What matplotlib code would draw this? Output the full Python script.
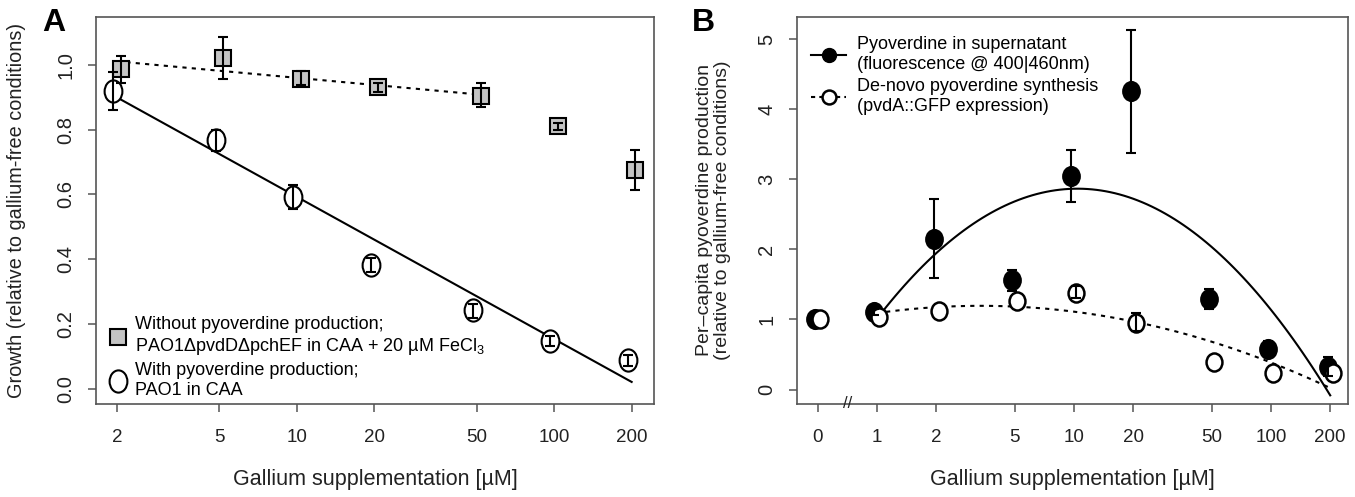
import numpy as np
import matplotlib.pyplot as plt
from matplotlib.path import Path
from matplotlib.lines import Line2D
from matplotlib.ticker import NullLocator

plt.rcParams['font.family'] = ['Liberation Sans', 'DejaVu Sans']
plt.rcParams['mathtext.fontset'] = 'custom'
plt.rcParams['mathtext.rm'] = 'Liberation Sans'
plt.rcParams['mathtext.it'] = 'Liberation Sans:italic'

# ---- panel A data: growth relative to gallium-free conditions ----
conc_a = np.array([2, 5, 10, 20, 50, 100, 200])
grow_nopvd = np.array([0.985, 1.020, 0.957, 0.931, 0.903, 0.811, 0.676])
grow_nopvd_lo = np.array([0.944, 0.957, 0.936, 0.916, 0.868, 0.799, 0.615])
grow_nopvd_hi = np.array([1.026, 1.084, 0.980, 0.944, 0.942, 0.821, 0.738])
grow_pvd = np.array([0.918, 0.767, 0.592, 0.383, 0.243, 0.148, 0.089])
grow_pvd_lo = np.array([0.859, 0.735, 0.556, 0.360, 0.221, 0.133, 0.071])
grow_pvd_hi = np.array([0.977, 0.798, 0.628, 0.403, 0.262, 0.163, 0.107])
nopvd_fit_max = 50  # dotted regression only up to 50 uM

# ---- panel B data: per-capita pyoverdine production ----
conc_b = np.array([0, 1, 2, 5, 10, 20, 50, 100, 200])
tick_labels_b = ['0', '1', '2', '5', '10', '20', '50', '100', '200']
pvd_super = np.array([1.00, 1.11, 2.15, 1.56, 3.04, 4.26, 1.29, 0.58, 0.32])
pvd_super_lo = np.array([np.nan, 1.07, 1.59, 1.41, 2.67, 3.38, 1.15, 0.47, 0.20])
pvd_super_hi = np.array([np.nan, 1.15, 2.72, 1.70, 3.41, 5.13, 1.43, 0.69, 0.46])
pvd_gfp = np.array([1.00, 1.03, 1.12, 1.27, 1.38, 0.95, 0.39, 0.24, 0.24])
pvd_gfp_lo = np.array([np.nan, np.nan, np.nan, np.nan, 1.30, 0.83, np.nan, np.nan, np.nan])
pvd_gfp_hi = np.array([np.nan, np.nan, np.nan, np.nan, 1.47, 1.09, np.nan, np.nan, np.nan])

# slightly squashed circles, like the reference
uc = Path.unit_circle()
ellipse_a = Path(uc.vertices * [0.8, 1.0], uc.codes)
ellipse_b = Path(uc.vertices * [0.88, 1.0], uc.codes)

edge = '#555555'
txt = '#222222'
fig = plt.figure(figsize=(13.55, 4.97), dpi=100)
axA = fig.add_axes([0.0712, 0.188, 0.4111, 0.7787])
axB = fig.add_axes([0.5882, 0.188, 0.4066, 0.7787])


def errbars(ax, x, y, lo, hi):
    ok = ~np.isnan(lo)
    ax.errorbar(x[ok], y[ok], yerr=[y[ok] - lo[ok], hi[ok] - y[ok]], fmt='none',
                ecolor='black', elinewidth=1.5, capsize=3.8, capthick=1.5, zorder=6)


def style(ax):
    for s in ax.spines.values():
        s.set_color(edge)
        s.set_linewidth(1.2)
    ax.tick_params(length=6, width=1.1, color=edge, pad=12.5, labelcolor=txt)
    ax.tick_params(axis='x', labelsize=13.5)
    ax.tick_params(axis='y', labelsize=14.5, labelrotation=90, pad=9)
    for lbl in ax.get_yticklabels():
        lbl.set_va('center')


# ---------------- Panel A ----------------
la = np.log10(conc_a)
off = 1.035
errbars(axA, conc_a * off, grow_nopvd, grow_nopvd_lo, grow_nopvd_hi)
errbars(axA, conc_a / off, grow_pvd, grow_pvd_lo, grow_pvd_hi)

m = conc_a <= nopvd_fit_max
k1 = np.polyfit(la[m], grow_nopvd[m], 1)
xs = np.linspace(la[m].min(), la[m].max(), 50)
axA.plot(10 ** xs, np.polyval(k1, xs), color='black', lw=1.5, ls=(0, (2, 2.5)), zorder=2)
k2 = np.polyfit(la, grow_pvd, 1)
xs = np.linspace(la.min(), la.max(), 50)
axA.plot(10 ** xs, np.polyval(k2, xs), color='black', lw=1.5, zorder=2)

axA.plot(conc_a * off, grow_nopvd, ls='none', marker='s', ms=11, mfc='#c4c4c4',
         mec='black', mew=1.5, zorder=4)
axA.plot(conc_a / off, grow_pvd, ls='none', marker=ellipse_a, ms=16, mfc='white',
         mec='black', mew=1.5, zorder=4)

axA.set_xscale('log')
axA.set_xticks(conc_a, labels=[str(c) for c in conc_a])
axA.xaxis.set_minor_locator(NullLocator())
axA.set_xlim(10 ** (la.min() - 0.08), 10 ** (la.max() + 0.085))
axA.set_ylim(-0.044, 1.148)
axA.set_yticks([0, 0.2, 0.4, 0.6, 0.8, 1.0], labels=['0.0', '0.2', '0.4', '0.6', '0.8', '1.0'])
style(axA)
axA.set_xlabel('Gallium supplementation [µM]', fontsize=15.5, color=txt, va='top')
axA.xaxis.set_label_coords(0.5, -0.168)
axA.set_ylabel('Growth (relative to gallium-free conditions)', fontsize=14.3, color=txt)
axA.yaxis.set_label_coords(-0.126, 0.5)

hA = [Line2D([], [], ls='none', marker='s', ms=11, mfc='#c4c4c4', mec='black', mew=1.5),
      Line2D([], [], ls='none', marker=ellipse_a, ms=16, mfc='white', mec='black', mew=1.5)]
labA = ['Without pyoverdine production;\nPAO1ΔpvdDΔpchEF in CAA + 20 µM FeCl$_\\mathregular{3}$',
        'With pyoverdine production;\nPAO1 in CAA']
axA.legend(hA, labA, loc='lower left', bbox_to_anchor=(0.012, -0.002), frameon=False,
           fontsize=13, handlelength=1.0, handletextpad=0.45, labelspacing=0.3,
           borderaxespad=0.1, borderpad=0.2)
fig.text(0.0395, 0.953, 'A', fontsize=23, fontweight='bold', ha='center', va='center')

# ---------------- Panel B ----------------
ub = np.log10(np.where(conc_b > 0, conc_b, 0.5))
d = 0.013
errbars(axB, ub - d, pvd_super, pvd_super_lo, pvd_super_hi)
errbars(axB, ub + d, pvd_gfp, pvd_gfp_lo, pvd_gfp_hi)

pos = conc_b > 0
xs = np.linspace(ub[pos].min(), ub[pos].max(), 100)
q1 = np.polyfit(ub[pos], pvd_super[pos], 2)
axB.plot(xs, np.polyval(q1, xs), color='black', lw=1.5, zorder=2)
q2 = np.polyfit(ub[pos], pvd_gfp[pos], 2)
axB.plot(xs, np.polyval(q2, xs), color='black', lw=1.5, ls=(0, (2, 2.5)), zorder=2)

axB.plot(ub - d, pvd_super, ls='none', marker=ellipse_b, ms=14, mfc='black',
         mec='black', mew=1.2, zorder=4)
axB.plot(ub + d, pvd_gfp, ls='none', marker=ellipse_b, ms=13, mfc='white',
         mec='black', mew=1.8, zorder=5)

axB.set_xticks(ub, labels=tick_labels_b)
axB.set_xlim(ub.min() - 0.104, ub.max() + 0.09)
axB.set_ylim(-0.2, 5.32)
axB.set_yticks(range(6), labels=[str(i) for i in range(6)])
style(axB)
axB.set_xlabel('Gallium supplementation [µM]', fontsize=15.5, color=txt, va='top')
axB.xaxis.set_label_coords(0.5, -0.168)
axB.set_ylabel('Per\u2013capita pyoverdine production\n(relative to gallium-free conditions)',
               fontsize=14, color=txt, linespacing=1.05)
axB.yaxis.set_label_coords(-0.12, 0.5)
axB.text((ub[0] + ub[1]) / 2, 0, '//', transform=axB.get_xaxis_transform(),
         ha='center', va='center', fontsize=12, color=txt, clip_on=False)

hB = [Line2D([], [], color='black', lw=1.5, marker='o', ms=10, mfc='black', mec='black'),
      Line2D([], [], color='black', lw=1.5, ls=(0, (2, 2)), marker='o', ms=10,
             mfc='white', mec='black', mew=1.8)]
labB = ['Pyoverdine in supernatant\n(fluorescence @ 400|460nm)',
        'De-novo pyoverdine synthesis\n(pvdA::GFP expression)']
axB.legend(hB, labB, loc='upper left', bbox_to_anchor=(-0.01, 1.0), frameon=False,
           fontsize=13, handlelength=1.9, handletextpad=0.6, labelspacing=0.28,
           borderaxespad=0.7)
fig.text(0.519, 0.953, 'B', fontsize=23, fontweight='bold', ha='center', va='center')

fig.savefig('out.png', dpi=100)
